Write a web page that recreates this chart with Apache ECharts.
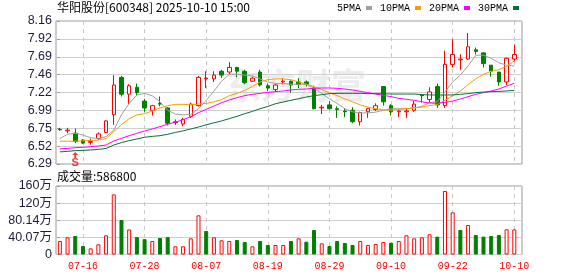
<!DOCTYPE html>
<html><head><meta charset="utf-8">
<script src="https://cdn.jsdelivr.net/npm/echarts@6/dist/echarts.min.js"></script>
<style>html,body{margin:0;padding:0;background:#fff}#c{width:578px;height:276px}</style>
</head><body><div id="c"></div>
<script>
const stockTitle = '华阳股份[600348] 2025-10-10 15:00';
const dates = ['07-11','07-14','07-15','07-16','07-17','07-18','07-21','07-22','07-23','07-24','07-25','07-28','07-29','07-30','07-31','08-01','08-04','08-05','08-06','08-07','08-08','08-11','08-12','08-13','08-14','08-15','08-18','08-19','08-20','08-21','08-22','08-25','08-26','08-27','08-28','08-29','09-01','09-02','09-03','09-04','09-05','09-08','09-09','09-10','09-11','09-12','09-15','09-16','09-17','09-18','09-19','09-22','09-23','09-24','09-25','09-26','09-29','09-30','10-09','10-10'];
const labelIdx = [3, 11, 19, 27, 35, 43, 51, 59];
const open  = [6.74,6.72,6.69,6.60,6.57,6.62,6.70,6.93,7.42,7.20, 7.29,7.11,6.99,7.08,7.02,6.83,6.81,6.91,7.05,7.40, 7.40,7.50,7.49,7.55,7.50,7.37,7.49,7.31,7.26,7.36, 7.37,7.36,7.36,7.28,7.02,7.06,7.01,6.98,6.99,6.84, 6.97,7.00,7.30,7.05,6.97,6.97,6.99,7.19,7.13,7.30, 7.05,7.59,7.65,7.66,7.78,7.74,7.58,7.49,7.36,7.66];
const close = [6.735,6.73,6.58,6.56,6.58,6.68,6.85,7.32,7.20,7.31, 7.22,7.02,7.05,7.07,6.82,6.84,6.87,7.07,7.42,7.41, 7.45,7.45,7.55,7.50,7.35,7.41,7.32,7.28,7.32,7.37, 7.32,7.33,7.33,7.01,7.03,7.01,7.00,6.97,6.84,6.96, 7.01,7.05,7.10,6.97,6.98,6.98,7.07,7.18,7.23,7.06, 7.59,7.72,7.66,7.82,7.76,7.60,7.50,7.36,7.67,7.72];
const high  = [6.76,6.76,6.75,6.61,6.62,6.70,6.86,7.45,7.44,7.33, 7.34,7.14,7.06,7.17,7.03,6.87,6.89,7.09,7.44,7.50, 7.50,7.52,7.62,7.56,7.52,7.43,7.52,7.34,7.33,7.41, 7.38,7.41,7.38,7.31,7.06,7.11,7.04,7.02,7.03,6.97, 7.02,7.08,7.30,7.07,6.99,7.02,7.11,7.20,7.29,7.34, 7.77,7.92,7.72,8.00,7.81,7.75,7.58,7.49,7.68,7.85];
const low   = [6.72,6.69,6.56,6.55,6.54,6.60,6.69,6.80,7.17,7.07, 7.19,6.97,6.92,7.04,6.79,6.80,6.78,6.89,7.04,7.28, 7.36,7.41,7.46,7.42,7.33,7.36,7.30,7.24,7.23,7.33, 7.22,7.28,7.30,7.00,6.94,7.00,6.89,6.90,6.82,6.79, 6.89,6.98,7.05,6.92,6.90,6.89,6.97,7.09,7.09,7.02, 7.02,7.55,7.52,7.65,7.72,7.55,7.43,7.31,7.32,7.63];
const ma5  = [6.62,6.675,6.69,6.665,6.63,6.62,6.645,6.73,6.93,7.08, 7.19,7.21,7.18,7.10,6.99,6.94,6.93,6.935,7.01,7.12, 7.24,7.37,7.46,7.46,7.45,7.44,7.40,7.36,7.34,7.34, 7.33,7.33,7.33,7.28,7.21,7.14,7.08,7.01,6.97,6.955, 6.955,6.965,6.99,7.01,7.01,7.01,7.02,7.04,7.09,7.10, 7.23,7.36,7.45,7.57,7.71,7.71,7.67,7.61,7.58,7.57];
const ma10 = [6.585,6.585,6.585,6.59,6.595,6.60,6.62,6.71,6.80,6.88, 6.93,6.945,6.98,7.02,7.05,7.067,7.067,7.06,7.07,7.08, 7.10,7.13,7.18,7.21,7.25,7.30,7.36,7.39,7.40,7.40, 7.39,7.36,7.33,7.30,7.26,7.22,7.18,7.14,7.10,7.06, 7.03,7.01,6.995,6.99,7.00,7.01,7.02,7.03,7.05,7.065, 7.12,7.18,7.24,7.325,7.40,7.46,7.50,7.52,7.565,7.635];
const ma20 = [6.485,6.49,6.50,6.505,6.513,6.522,6.535,6.588,6.622,6.657, 6.688,6.718,6.745,6.775,6.806,6.835,6.865,6.906,6.958,7.002, 7.045,7.089,7.124,7.155,7.181,7.198,7.211,7.224,7.233,7.242, 7.255,7.264,7.268,7.277,7.281,7.281,7.277,7.268,7.255,7.237, 7.22,7.202,7.185,7.168,7.146,7.133,7.12,7.10,7.085,7.08, 7.093,7.11,7.137,7.168,7.198,7.22,7.242,7.268,7.307,7.342];
const ma30 = [6.445,6.452,6.461,6.465,6.47,6.478,6.49,6.535,6.566,6.592, 6.614,6.636,6.648,6.657,6.675,6.70,6.72,6.745,6.77,6.80, 6.825,6.85,6.88,6.91,6.945,6.975,7.01,7.04,7.075,7.098, 7.12,7.141,7.163,7.181,7.194,7.207,7.211,7.211,7.211,7.211, 7.207,7.207,7.207,7.202,7.202,7.202,7.202,7.195,7.19,7.19, 7.19,7.19,7.198,7.207,7.22,7.228,7.233,7.237,7.242,7.25];
const volume = [316000,402000,433000,199000,144000,238000,449000,1407000,806000,585000, 406000,359000,316000,386000,406000,191000,191000,378000,916000,550000, 402000,332000,316000,339000,292000,191000,316000,222000,222000,222000, 316000,378000,300000,573000,261000,199000,316000,269000,222000,316000, 222000,246000,292000,276000,316000,449000,378000,402000,472000,417000, 1486000,986000,573000,690000,456000,417000,433000,456000,589000,586800];
const volUp = [1,1,0,0,1,1,1,1,0,1, 0,0,1,0,0,1,1,1,1,0, 1,1,1,0,0,1,0,0,1,1, 0,1,0,0,1,0,0,0,0,1, 1,1,1,0,1,1,1,1,1,0, 1,1,0,1,0,0,0,0,1,1];
const priceTicks = [6.2865,6.5204,6.7543,6.9882,7.2221,7.456,7.6899,7.9238,8.1577];
const volMax = 1602800, volStep = 400700;
const sigIdx = [2], sigPrice = [6.405], sigText = ['S'];
const maNames = ['5PMA','10PMA','20PMA','30PMA'];
const maColors = ['#a0a0a0','#f5a000','#ff00ff','#0a7038'];
const maData = [ma5, ma10, ma20, ma30];

const RED = '#ff0000', GREEN = '#008000';
const FONT_NUM = 'Liberation Sans, Noto Sans CJK SC, sans-serif';
const FONT_MONO = 'Liberation Mono, DejaVu Sans Mono, monospace';
const FONT_CJK = 'Noto Sans CJK SC, sans-serif';

const chart = echarts.init(document.getElementById('c'), null, {renderer: 'canvas'});
const N = dates.length;
const kData = dates.map((d, i) => [i, open[i], close[i], low[i], high[i]]);
const volData = dates.map((d, i) => ({
  value: [i, volume[i]],
  itemStyle: volUp[i] ? {color: '#fff', borderColor: RED, borderWidth: 1} : {color: GREEN, borderColor: GREEN, borderWidth: 1}
}));
const pairs = arr => arr.map((v, i) => [i, v]);
const splitV = {show: true, lineStyle: {color: '#c8c8c8', type: [4, 4], width: 1}};
const splitH = {show: true, lineStyle: {color: '#cfcfcf', width: 1}};

const option = {
  animation: false,
  backgroundColor: '#fff',
  title: [
    {text: stockTitle, left: 57, top: 1, padding: 0, textStyle: {fontSize: 12, fontWeight: 'normal', color: '#000', fontFamily: FONT_CJK}},
    {text: '成交量:' + volume[N - 1], left: 57, top: 170, padding: 0, textStyle: {fontSize: 12, fontWeight: 'normal', color: '#000', fontFamily: FONT_CJK}}
  ],
  legend: {
    left: 337, top: 3, padding: 0, align: 'right', icon: 'rect', itemWidth: 6, itemHeight: 4, itemGap: 8,
    textStyle: {fontFamily: FONT_MONO, fontSize: 10, color: '#000'},
    data: maNames
  },
  graphic: [{
    type: 'text', left: 226, top: 68, z: -10, silent: true,
    style: {text: '东方财富', fontSize: 35, fontWeight: 'bold', fill: '#ececec', fontFamily: FONT_CJK}
  }],
  grid: [
    {left: 56, top: 21, width: 466, height: 143, show: true, borderColor: '#999', borderWidth: 1},
    {left: 56, top: 186, width: 466, height: 68.5, show: true, borderColor: '#999', borderWidth: 1}
  ],
  xAxis: [
    {type: 'value', gridIndex: 0, min: -0.5, max: 60,
     axisLine: {show: false}, axisTick: {show: false, customValues: labelIdx},
     axisLabel: {show: false, customValues: labelIdx}, splitLine: splitV},
    {type: 'value', gridIndex: 1, min: -0.5, max: 60,
     axisLine: {show: false}, axisTick: {show: false, customValues: labelIdx},
     axisLabel: {show: true, customValues: labelIdx, formatter: v => dates[Math.round(v)], color: RED, fontFamily: FONT_MONO, fontSize: 10, margin: 7},
     splitLine: splitV}
  ],
  yAxis: [
    {type: 'value', gridIndex: 0, min: priceTicks[0], max: priceTicks[priceTicks.length - 1],
     axisLine: {show: false},
     axisTick: {show: true, length: 3, lineStyle: {color: '#999'}, customValues: priceTicks},
     axisLabel: {customValues: priceTicks, formatter: v => v.toFixed(2), margin: 4, fontSize: 12.5, color: '#1c1c3a', fontFamily: FONT_NUM, showMinLabel: true, showMaxLabel: true},
     splitLine: splitH},
    {type: 'value', gridIndex: 1, min: 0, max: volMax, interval: volStep,
     axisLine: {show: false},
     axisTick: {show: true, length: 3, lineStyle: {color: '#999'}},
     axisLabel: {margin: 4, fontSize: 12.5, color: '#1c1c3a', fontFamily: FONT_NUM, showMinLabel: true, showMaxLabel: true,
       formatter: v => v === 0 ? '0' : (v >= 1e6 ? Math.round(v / 1e4) : (v / 1e4).toFixed(2)) + '万'},
     splitLine: splitH}
  ],
  series: [
    {type: 'candlestick', name: 'K', xAxisIndex: 0, yAxisIndex: 0, data: kData,
     encode: {x: 0, y: [1, 2, 3, 4]}, barWidth: 4,
     itemStyle: {color: '#fff', color0: GREEN, borderColor: RED, borderColor0: GREEN, borderWidth: 1}, z: 3},
    ...maNames.map((n, k) => ({
      type: 'line', name: n, xAxisIndex: 0, yAxisIndex: 0, data: pairs(maData[k]),
      symbol: 'none', color: maColors[k], lineStyle: {width: 1, color: maColors[k]}, z: 4
    })),
    {type: 'scatter', name: 'sig', xAxisIndex: 0, yAxisIndex: 0,
     data: sigIdx.map((x, k) => ({value: [x, sigPrice[k]], label: {formatter: sigText[k]}})),
     symbol: 'path://M5,0 L10,5 L6.5,5 L6.5,10 L3.5,10 L3.5,5 L0,5 Z', symbolSize: [6, 6],
     itemStyle: {color: RED},
     label: {show: true, position: 'bottom', distance: 0, color: RED, fontSize: 11, fontWeight: 'bold', fontFamily: FONT_NUM}, z: 5},
    {type: 'bar', name: 'vol', xAxisIndex: 1, yAxisIndex: 1, data: volData, barWidth: 4}
  ]
};
chart.setOption(option);
</script>
</body></html>
